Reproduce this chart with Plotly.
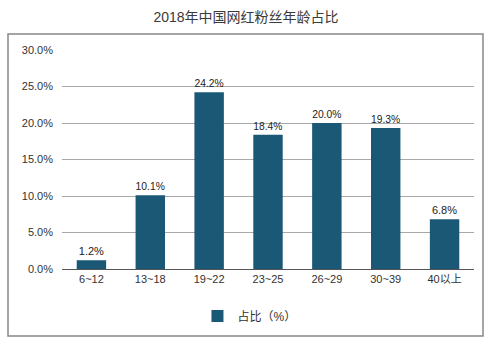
import plotly.graph_objects as go

# Age groups of fans and their share (%)
age_groups = ["6~12", "13~18", "19~22", "23~25", "26~29", "30~39", "40以上"]
shares = [1.2, 10.1, 24.2, 18.4, 20.0, 19.3, 6.8]
y_ticks = [0, 5, 10, 15, 20, 25, 30]
y_tick_text = ["0.0%", "5.0%", "10.0%", "15.0%", "20.0%", "25.0%", "30.0%"]

BAR = "#1b5876"
FONT = "Liberation Sans, Arial, Noto Sans CJK SC, sans-serif"

fig = go.Figure(
    go.Bar(
        x=age_groups,
        y=shares,
        name="占比（%）",
        marker=dict(color=BAR, line=dict(width=0)),
        text=[f"{v:.1f}%" for v in shares],
        textposition="outside",
        textfont=dict(size=11, color="#222222"),
        cliponaxis=False,
    )
)

fig.update_layout(
    width=492,
    height=340,
    margin=dict(l=62, r=18, t=50, b=71, autoexpand=False),
    paper_bgcolor="white",
    plot_bgcolor="white",
    font=dict(family=FONT, size=11, color="#333333"),
    bargap=0.5,
    title=dict(
        text="2018年中国网红粉丝年龄占比",
        x=0.5,
        xanchor="center",
        y=1 - 17 / 340,
        yanchor="middle",
        font=dict(size=14, color="#3a3a3a"),
    ),
    showlegend=True,
    legend=dict(
        orientation="h",
        x=0.455,
        xanchor="center",
        y=-0.215,
        yanchor="middle",
        font=dict(size=12, color="#333333"),
        itemwidth=30,
    ),
    xaxis=dict(
        showgrid=False,
        showline=True,
        linecolor="#555555",
        linewidth=1,
        ticks="",
        tickfont=dict(size=11, color="#333333"),
    ),
    yaxis=dict(
        range=[0, 30],
        tickvals=y_ticks,
        ticktext=y_tick_text,
        showgrid=True,
        gridcolor="#a8a8a8",
        gridwidth=1,
        zeroline=False,
        showline=False,
        ticks="",
        ticklabelstandoff=8,
        tickfont=dict(size=11, color="#333333"),
    ),
    shapes=[
        # outer frame around the chart body
        dict(
            type="rect",
            xref="paper",
            yref="paper",
            x0=(8 - 62) / 412,
            x1=(483 - 62) / 412,
            y0=(269 - 336) / 219,
            y1=(269 - 34) / 219,
            line=dict(color="#888888", width=1.5),
            fillcolor="rgba(0,0,0,0)",
            layer="below",
        )
    ],
)

fig.write_html("out.html")
